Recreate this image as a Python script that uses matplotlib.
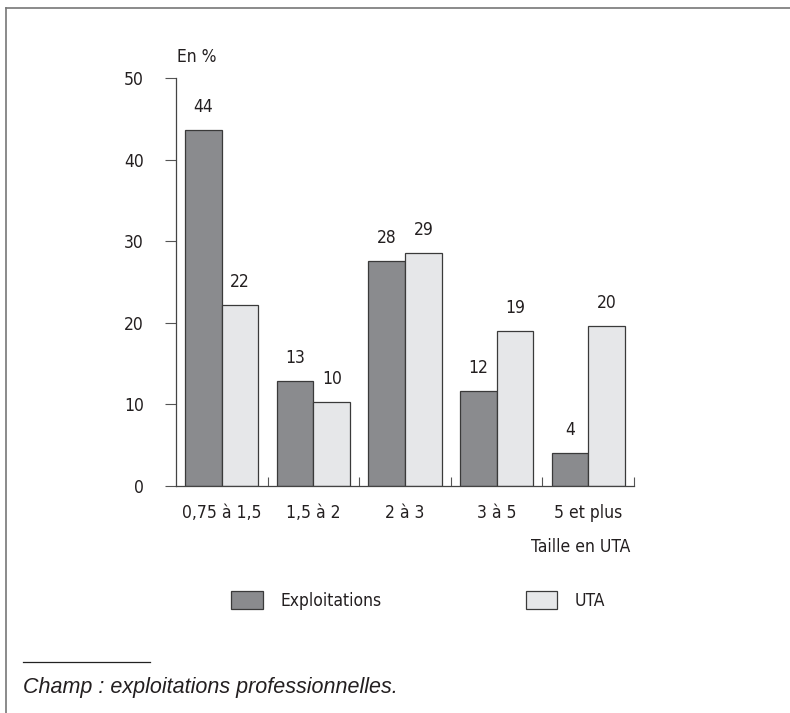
import matplotlib.pyplot as plt
import numpy as np
from matplotlib.lines import Line2D

plt.rcParams['font.family'] = ['DejaVu Sans']
plt.rcParams['font.stretch'] = 'condensed'

categories = ['0,75 à 1,5', '1,5 à 2', '2 à 3', '3 à 5', '5 et plus']
exploitations = [43.6, 12.9, 27.6, 11.6, 4.05]
uta = [22.2, 10.3, 28.6, 19.05, 19.6]
yticks = [0, 10, 20, 30, 40, 50]

txt = '#231f20'
dark = '#8a8b8e'
light = '#e6e7e9'
fs = 12.5

W, H = 790, 713
fig = plt.figure(figsize=(W / 100, H / 100), dpi=100)
ax = fig.add_axes([176 / W, 1 - 486 / H, (634 - 176) / W, 408 / H])

x = np.arange(len(categories))
w = 0.4
b1 = ax.bar(x - w / 2, exploitations, w, color=dark, edgecolor='#3a3a3a', linewidth=0.9, label='Exploitations')
b2 = ax.bar(x + w / 2, uta, w, color=light, edgecolor='#3a3a3a', linewidth=0.9, label='UTA')
for b in (b1, b2):
    ax.bar_label(b, fmt='{:.0f}', padding=10, fontsize=fs, color=txt)

ax.set_xlim(-0.5, len(categories) - 0.5)
ax.set_ylim(0, 50)
ax.set_yticks(yticks)
ax.set_xticks(x)
ax.set_xticklabels(categories)
ax.set_xticks(x + 0.5, minor=True)

for s in ['top', 'right']:
    ax.spines[s].set_visible(False)
for s in ['left', 'bottom']:
    ax.spines[s].set_color('#444444')
    ax.spines[s].set_linewidth(0.9)

ax.tick_params(axis='y', direction='out', length=8, width=0.8, color='#555555',
               pad=15, labelsize=fs, labelcolor=txt)
ax.tick_params(axis='x', which='major', length=0, pad=13, labelsize=fs, labelcolor=txt)
ax.tick_params(axis='x', which='minor', direction='in', length=6.5, width=0.8, color='#555555')

fig.text(177 / W, 1 - 57 / H, 'En %', fontsize=fs, color=txt, va='center', ha='left')
fig.text(630 / W, 1 - 547 / H, 'Taille en UTA', fontsize=fs, color=txt, va='center', ha='right')

fig.legend(handles=[b1, b2], loc='upper left', bbox_to_anchor=(231 / W, 1 - 591 / H),
           ncol=2, frameon=False, fontsize=fs, labelcolor=txt,
           handlelength=1.84, handleheight=1.26, handletextpad=1.0, columnspacing=8.3,
           borderpad=0, borderaxespad=0)

# frame and footnote
fig.add_artist(Line2D([6 / W, 6 / W], [0, 1 - 8 / H], color='#777777', lw=1.2))
fig.add_artist(Line2D([6 / W, 1], [1 - 8 / H, 1 - 8 / H], color='#777777', lw=1.2))
fig.add_artist(Line2D([23 / W, 150 / W], [1 - 662 / H, 1 - 662 / H], color='#222222', lw=0.9))
fig.text(23 / W, 1 - 688 / H, 'Champ : exploitations professionnelles.', fontsize=15.5,
         family='Liberation Sans', style='italic', stretch='normal', color=txt, va='center', ha='left')

fig.savefig('out.png', dpi=100)
